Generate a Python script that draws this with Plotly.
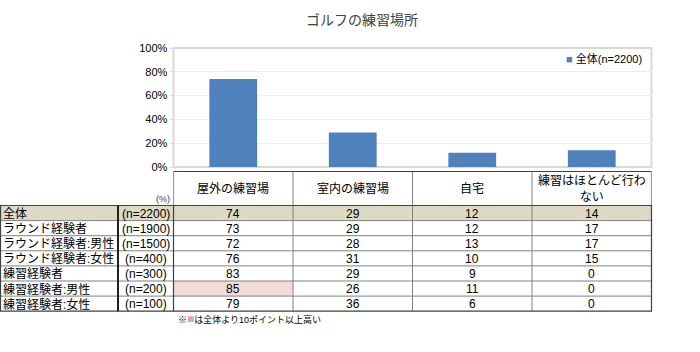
import plotly.graph_objects as go

W, H = 700, 352

title = "ゴルフの練習場所"
categories = ["屋外の練習場", "室内の練習場", "自宅", "練習はほとんど行わ<br>ない"]
row_labels = ["全体", "ラウンド経験者", "ラウンド経験者:男性", "ラウンド経験者:女性",
              "練習経験者", "練習経験者:男性", "練習経験者:女性"]
row_n = ["(n=2200)", "(n=1900)", "(n=1500)", "(n=400)", "(n=300)", "(n=200)", "(n=100)"]
outdoor = [74, 73, 72, 76, 83, 85, 79]
indoor = [29, 29, 28, 31, 29, 26, 36]
home = [12, 12, 13, 10, 9, 11, 6]
none_ = [14, 17, 17, 15, 0, 0, 0]
series_name = "全体(n=2200)"
yticks = [0, 20, 40, 60, 80, 100]
footnote = ("※<span style='color:#e6a3a3;font-size:12px'>■</span>"
            "は全体より10ポイント以上高い")

cols = [outdoor, indoor, home, none_]
total = [c[0] for c in cols]

FONT = "Liberation Sans, Arial, Noto Sans CJK JP, sans-serif"
BAR = "#4f81bd"
BEIGE = "#ddd9c4"
PINK = "#f2dcdb"
DARK = "#404040"

def py(p):
    return 1 - p / H

def px(p):
    return p / W

fig = go.Figure()
fig.add_trace(go.Bar(
    x=list(range(len(categories))), y=total, name=series_name,
    marker=dict(color=BAR, line=dict(width=0)), width=0.4, showlegend=False,
))

plot_left, plot_right = 173.5, 651.5
plot_top, plot_bot = 48, 167

shapes = []
annotations = []

def ann(**kw):
    kw.setdefault("showarrow", False)
    kw.setdefault("xanchor", "center")
    kw.setdefault("yanchor", "middle")
    annotations.append(kw)

# table geometry
head_top, head_bot = 171.5, 205.5
row_h = 15.1
label_x1 = 118
n_x1 = plot_left

nrows = len(row_labels)
tbl_bot = head_bot + row_h * nrows

# backgrounds
for r in range(nrows):
    y0 = head_bot + r * row_h
    if r == 0:
        shapes.append(dict(type="rect", xref="paper", yref="paper", x0=0, x1=px(plot_right),
                           y0=py(y0 + row_h), y1=py(y0), fillcolor=BEIGE, line=dict(width=0), layer="below"))
    for c, col in enumerate(cols):
        if r > 0 and col[r] - col[0] >= 10:
            shapes.append(dict(type="rect", xref="x", yref="paper", x0=c - 0.5, x1=c + 0.5,
                               y0=py(y0 + row_h), y1=py(y0), fillcolor=PINK, line=dict(width=0), layer="below"))

# horizontal lines
for r in range(1, nrows):
    y = py(head_bot + r * row_h)
    shapes.append(dict(type="line", xref="paper", yref="paper", x0=0, x1=px(plot_right), y0=y, y1=y,
                       line=dict(color="#808080", width=1)))
# header box
shapes.append(dict(type="rect", xref="x", yref="paper", x0=-0.5, x1=len(categories) - 0.5,
                   y0=py(head_bot), y1=py(head_top), line=dict(color=DARK, width=1.2)))
for c in range(1, len(categories)):
    shapes.append(dict(type="line", xref="x", yref="paper", x0=c - 0.5, x1=c - 0.5,
                       y0=py(tbl_bot), y1=py(head_top), line=dict(color="#808080", width=1)))
# body box
shapes.append(dict(type="rect", xref="paper", yref="paper", x0=px(0.5), x1=px(plot_right),
                   y0=py(tbl_bot), y1=py(head_bot), line=dict(color=DARK, width=1.2)))
shapes.append(dict(type="line", xref="paper", yref="paper", x0=px(label_x1), x1=px(label_x1),
                   y0=py(tbl_bot), y1=py(head_bot), line=dict(color="#202020", width=2)))
shapes.append(dict(type="line", xref="paper", yref="paper", x0=px(n_x1), x1=px(n_x1),
                   y0=py(tbl_bot), y1=py(head_bot), line=dict(color=DARK, width=1.2)))

# header text
for c, cat in enumerate(categories):
    ann(xref="x", yref="paper", x=c, y=py((head_top + head_bot) / 2), text=cat,
        font=dict(size=12, color="#000", family=FONT))
ann(xref="paper", yref="paper", x=px(172), y=py(199), text="(%)", xanchor="right",
    font=dict(size=9, color="#404040", family=FONT))

# body text
for r in range(nrows):
    yc = py(head_bot + r * row_h + row_h / 2 + 0.5)
    ann(xref="paper", yref="paper", x=px(1), y=yc, text=row_labels[r], xanchor="left",
        font=dict(size=12, color="#000", family=FONT))
    ann(xref="paper", yref="paper", x=px((label_x1 + n_x1) / 2), y=yc, text=row_n[r],
        font=dict(size=12, color="#000", family=FONT))
    for c, col in enumerate(cols):
        ann(xref="x", yref="paper", x=c, y=yc, text=str(col[r]),
            font=dict(size=12, color="#000", family=FONT))

ann(xref="paper", yref="paper", x=px(176), y=py(319), text=footnote, xanchor="left",
    font=dict(size=9, color="#000", family=FONT))

# legend as annotation
ann(xref="paper", yref="paper", x=px(644), y=py(58), xanchor="right",
    text=f"<span style='color:{BAR}'>■</span> {series_name}",
    font=dict(size=11, color="#000", family=FONT))

# plot frame
shapes.append(dict(type="rect", xref="paper", yref="paper", x0=px(plot_left), x1=px(plot_right),
                   y0=py(plot_bot), y1=py(plot_top), line=dict(color="#d9d9d9", width=2), layer="below"))

fig.update_layout(
    width=W, height=H, margin=dict(l=0, r=0, t=0, b=0, autoexpand=False),
    paper_bgcolor="white", plot_bgcolor="white",
    title=dict(text=title, x=0.517, xanchor="center", y=py(20), yanchor="middle",
               font=dict(size=14, color="#404040", family=FONT)),
    xaxis=dict(domain=[px(plot_left), px(plot_right)], range=[-0.5, len(categories) - 0.5],
               showticklabels=False, showgrid=False, zeroline=False, ticks="", automargin=False),
    yaxis=dict(domain=[py(plot_bot), py(plot_top)], range=[0, 100], tickvals=yticks,
               ticktext=[f"{v}%" for v in yticks], showgrid=True, gridcolor="#ececec", gridwidth=1,
               zeroline=False, tickfont=dict(size=11, color="#000", family=FONT),
               ticks="outside", ticklen=3, tickcolor="#d9d9d9", showline=False, automargin=False),
    showlegend=False,
    shapes=shapes, annotations=annotations, bargap=0.6,
)

fig.write_html("out.html")
